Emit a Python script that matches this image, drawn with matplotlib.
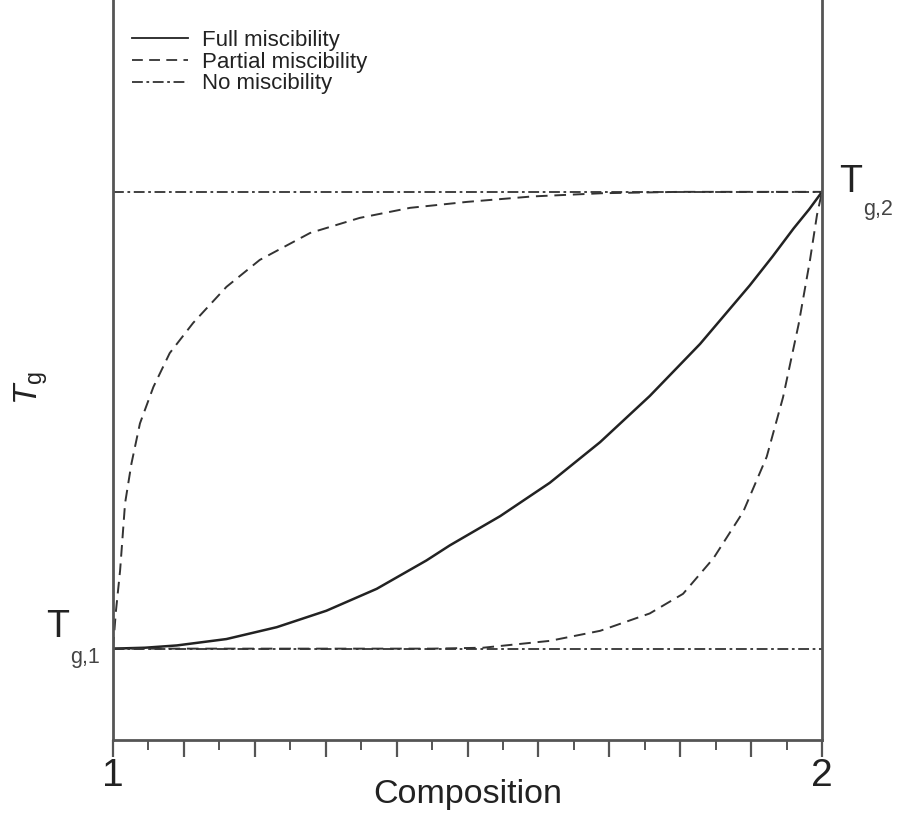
import matplotlib
matplotlib.use("Agg")
import matplotlib.pyplot as plt
from matplotlib.ticker import MultipleLocator, FuncFormatter

plt.rcParams['font.family'] = ['Liberation Sans', 'DejaVu Sans']
plt.rcParams['mathtext.fontset'] = 'custom'
plt.rcParams['mathtext.rm'] = 'Liberation Sans'
plt.rcParams['mathtext.it'] = 'Liberation Sans:italic'

# Data (composition from 1 to 2, Tg normalized: Tg,1 = 0, Tg,2 = 1)
full_x = [1.0, 1.045, 1.090, 1.160, 1.231, 1.301, 1.372, 1.442, 1.475, 1.546, 1.616, 1.687,
          1.757, 1.828, 1.898, 1.930, 1.960, 1.982, 2.0]
full_y = [0.0, 0.002, 0.007, 0.021, 0.047, 0.083, 0.131, 0.193, 0.226, 0.290, 0.363, 0.452,
          0.553, 0.667, 0.795, 0.858, 0.920, 0.962, 1.0]

partial_up_x = [1.0, 1.004, 1.010, 1.017, 1.026, 1.038, 1.057, 1.080, 1.113, 1.160, 1.207, 1.278, 1.348,
                1.419, 1.499, 1.592, 1.69, 1.8, 2.0]
partial_up_y = [0.0, 0.08, 0.171, 0.318, 0.405, 0.493, 0.573, 0.647, 0.713, 0.792, 0.851, 0.910, 0.943,
                0.965, 0.978, 0.990, 0.997, 1.0, 1.0]

partial_lo_x = [1.0, 1.3, 1.45, 1.522, 1.616, 1.687, 1.757, 1.804, 1.847, 1.889, 1.922, 1.945, 1.967,
                1.983, 1.993, 2.0]
partial_lo_y = [0.0, 0.0, 0.0, 0.002, 0.017, 0.039, 0.077, 0.12, 0.198, 0.30, 0.42, 0.55, 0.71,
                0.85, 0.95, 1.0]

no_levels = [0.0, 1.0]
xlim = (1.0, 2.0)

fig = plt.figure(figsize=(8.98, 8.14), dpi=100)
W, H = 898, 814
ax = fig.add_axes([113/W, 74/H, 709/W, 740/H])

ax.plot(full_x, full_y, color='#222222', lw=1.8, ls='-', label='Full miscibility')
ax.plot(partial_up_x, partial_up_y, color='#333333', lw=1.4, ls=(0, (6, 3.5)), label='Partial miscibility')
ax.plot(partial_lo_x, partial_lo_y, color='#333333', lw=1.4, ls=(0, (6, 3.5)))
for i, lv in enumerate(no_levels):
    ax.plot(list(xlim), [lv, lv], color='#333333', lw=1.3, ls=(0, (6, 2, 1.5, 2)),
            label='No miscibility' if i == 0 else None)

ax.set_xlim(*xlim)
ax.set_ylim(-0.2, 1.42)

ax.spines['top'].set_visible(False)
for s in ['left', 'right', 'bottom']:
    ax.spines[s].set_color('#555555')
    ax.spines[s].set_linewidth(2.0)

ax.xaxis.set_major_locator(MultipleLocator(0.1))
ax.xaxis.set_minor_locator(MultipleLocator(0.05))
ax.xaxis.set_major_formatter(FuncFormatter(
    lambda v, p: '1' if abs(v - 1) < 1e-6 else ('2' if abs(v - 2) < 1e-6 else '')))
ax.tick_params(axis='x', which='major', direction='out', length=12, width=1.6, color='#555555',
               labelsize=28, pad=1, labelcolor='#222222')
ax.tick_params(axis='x', which='minor', direction='out', length=7, width=1.4, color='#555555')
ax.set_yticks([])

ax.set_xlabel('Composition', fontsize=24.5, color='#222222')
ax.xaxis.set_label_coords(0.5, -0.053)

# y label (rotated italic T_g)
fig.text(31/W, 1 - 388/H, r'$T_{\rm g}$', fontsize=24, rotation=90, ha='center', va='center',
         color='#222222')

# Tg,1 and Tg,2 labels
fig.text(46/W, 1 - 637/H, 'T', fontsize=27, ha='left', va='baseline', color='#222222')
fig.text(70/W, 1 - 663/H, 'g,1', fontsize=15.5, ha='left', va='baseline', color='#444444')
fig.text(839/W, 1 - 192/H, 'T', fontsize=27, ha='left', va='baseline', color='#222222')
fig.text(863/W, 1 - 215/H, 'g,2', fontsize=15.5, ha='left', va='baseline', color='#444444')

leg = ax.legend(loc='upper left', bbox_to_anchor=(132/W, 1 - 30/H), bbox_transform=fig.transFigure,
                frameon=False, fontsize=16, handlelength=2.5, handletextpad=0.63,
                labelspacing=0.03, borderaxespad=0, borderpad=0)
for h in leg.get_lines():
    h.set_linewidth(1.3)
for t in leg.get_texts():
    t.set_color('#222222')

fig.savefig('out.png', dpi=100)
